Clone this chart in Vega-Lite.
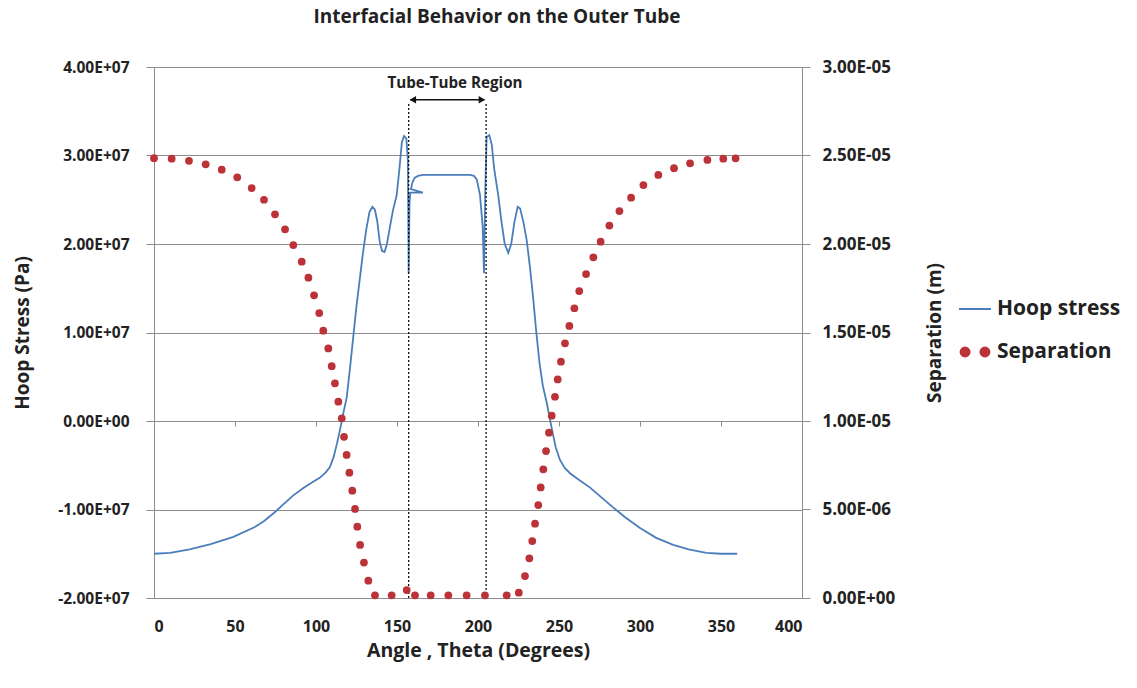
{
  "$schema": "https://vega.github.io/schema/vega-lite/v6.json",
  "width": 648,
  "height": 531,
  "autosize": "none",
  "padding": {"left": 154, "top": 67, "right": 335, "bottom": 90},
  "background": "white",
  "config": {
    "view": {"stroke": null},
    "font": "Open Sans",
    "axisLeft": {"grid": true, "gridColor": "#8c8c8c", "gridWidth": 1, "tickSize": 8, "tickColor": "#8c8c8c", "domainColor": "#8c8c8c",
      "labelExpr": "replace(replace(replace(format(datum.value, '.2e'), 'e+', 'E+0'), 'e-', 'E-0'), '\u2212', '-')",
      "labelFont": "Open Sans", "labelFontSize": 15.5, "labelFontWeight": "bold", "labelColor": "#222222", "labelPadding": 17, "titleFont": "Open Sans", "titleFontSize": 19, "titleFontWeight": "bold", "titleColor": "#222222", "titlePadding": 25},
    "axisRight": {"grid": false, "tickSize": 8, "tickColor": "#8c8c8c", "domainColor": "#8c8c8c",
      "labelExpr": "replace(replace(replace(format(datum.value, '.2e'), 'e+', 'E+0'), 'e-', 'E-0'), '\u2212', '-')",
      "labelFont": "Open Sans", "labelFontSize": 17, "labelFontWeight": "bold", "labelColor": "#222222", "labelPadding": 12, "titleFont": "Open Sans", "titleFontSize": 19, "titleFontWeight": "bold", "titleColor": "#222222", "titleAngle": -90, "titlePadding": 50},
    "axisBottom": {"grid": false, "ticks": false, "domainColor": "#8c8c8c", "labelFont": "Open Sans", "labelFontSize": 16, "labelFontWeight": "bold", "labelColor": "#222222", "labelPadding": 20, "titleFont": "Open Sans", "titleFontSize": 19.5, "titleFontWeight": "bold", "titleColor": "#222222", "titlePadding": 7}
  },
  "title": {"text": "Interfacial Behavior on the Outer Tube", "font": "Open Sans", "fontSize": 19, "fontWeight": "bold", "color": "#222222", "offset": 31, "dx": 19, "anchor": "middle"},
  "datasets": {
    "hoop": [
      {"i": 0, "theta": 0, "stress": -1.50e7},
      {"i": 1, "theta": 10, "stress": -1.49e7},
      {"i": 2, "theta": 22, "stress": -1.45e7},
      {"i": 3, "theta": 35, "stress": -1.39e7},
      {"i": 4, "theta": 49, "stress": -1.31e7},
      {"i": 5, "theta": 62, "stress": -1.20e7},
      {"i": 6, "theta": 68, "stress": -1.13e7},
      {"i": 7, "theta": 74, "stress": -1.04e7},
      {"i": 8, "theta": 80, "stress": -0.94e7},
      {"i": 9, "theta": 86, "stress": -0.84e7},
      {"i": 10, "theta": 92, "stress": -0.76e7},
      {"i": 11, "theta": 97, "stress": -0.70e7},
      {"i": 12, "theta": 102.5, "stress": -0.64e7},
      {"i": 13, "theta": 106, "stress": -0.58e7},
      {"i": 14, "theta": 108.6, "stress": -0.52e7},
      {"i": 15, "theta": 111, "stress": -0.40e7},
      {"i": 16, "theta": 113, "stress": -0.25e7},
      {"i": 17, "theta": 114.8, "stress": -0.10e7},
      {"i": 18, "theta": 117, "stress": 0.10e7},
      {"i": 19, "theta": 119, "stress": 0.27e7},
      {"i": 20, "theta": 121, "stress": 0.60e7},
      {"i": 21, "theta": 123, "stress": 0.95e7},
      {"i": 22, "theta": 125, "stress": 1.30e7},
      {"i": 23, "theta": 127, "stress": 1.60e7},
      {"i": 24, "theta": 129, "stress": 1.90e7},
      {"i": 25, "theta": 131, "stress": 2.16e7},
      {"i": 26, "theta": 133, "stress": 2.36e7},
      {"i": 27, "theta": 134.8, "stress": 2.42e7},
      {"i": 28, "theta": 136.3, "stress": 2.39e7},
      {"i": 29, "theta": 137.8, "stress": 2.26e7},
      {"i": 30, "theta": 139.3, "stress": 2.03e7},
      {"i": 31, "theta": 140.8, "stress": 1.92e7},
      {"i": 32, "theta": 142.3, "stress": 1.91e7},
      {"i": 33, "theta": 143.8, "stress": 2.00e7},
      {"i": 34, "theta": 145.5, "stress": 2.18e7},
      {"i": 35, "theta": 147.5, "stress": 2.38e7},
      {"i": 36, "theta": 149.8, "stress": 2.55e7},
      {"i": 37, "theta": 151.5, "stress": 2.85e7},
      {"i": 38, "theta": 153, "stress": 3.15e7},
      {"i": 39, "theta": 154.3, "stress": 3.22e7},
      {"i": 40, "theta": 155.8, "stress": 3.19e7},
      {"i": 41, "theta": 156.7, "stress": 2.95e7},
      {"i": 42, "theta": 157.2, "stress": 1.67e7},
      {"i": 43, "theta": 157.7, "stress": 2.45e7},
      {"i": 44, "theta": 158.2, "stress": 2.58e7},
      {"i": 45, "theta": 166, "stress": 2.58e7},
      {"i": 46, "theta": 158.6, "stress": 2.62e7},
      {"i": 47, "theta": 159.6, "stress": 2.70e7},
      {"i": 48, "theta": 161, "stress": 2.75e7},
      {"i": 49, "theta": 163, "stress": 2.77e7},
      {"i": 50, "theta": 166, "stress": 2.78e7},
      {"i": 51, "theta": 180, "stress": 2.78e7},
      {"i": 52, "theta": 195, "stress": 2.78e7},
      {"i": 53, "theta": 197.5, "stress": 2.77e7},
      {"i": 54, "theta": 199.2, "stress": 2.73e7},
      {"i": 55, "theta": 201.2, "stress": 2.56e7},
      {"i": 56, "theta": 202.9, "stress": 2.20e7},
      {"i": 57, "theta": 203.7, "stress": 1.67e7},
      {"i": 58, "theta": 204.5, "stress": 2.60e7},
      {"i": 59, "theta": 205.3, "stress": 3.21e7},
      {"i": 60, "theta": 207, "stress": 3.23e7},
      {"i": 61, "theta": 208.5, "stress": 3.12e7},
      {"i": 62, "theta": 210, "stress": 2.85e7},
      {"i": 63, "theta": 212.5, "stress": 2.55e7},
      {"i": 64, "theta": 214.5, "stress": 2.25e7},
      {"i": 65, "theta": 216.5, "stress": 2.00e7},
      {"i": 66, "theta": 218.7, "stress": 1.90e7},
      {"i": 67, "theta": 220.5, "stress": 2.00e7},
      {"i": 68, "theta": 222.5, "stress": 2.25e7},
      {"i": 69, "theta": 224.5, "stress": 2.42e7},
      {"i": 70, "theta": 226, "stress": 2.40e7},
      {"i": 71, "theta": 228, "stress": 2.25e7},
      {"i": 72, "theta": 230, "stress": 2.05e7},
      {"i": 73, "theta": 232, "stress": 1.75e7},
      {"i": 74, "theta": 234, "stress": 1.40e7},
      {"i": 75, "theta": 236, "stress": 1.00e7},
      {"i": 76, "theta": 238, "stress": 0.65e7},
      {"i": 77, "theta": 240, "stress": 0.40e7},
      {"i": 78, "theta": 242.5, "stress": 0.20e7},
      {"i": 79, "theta": 245.7, "stress": -0.10e7},
      {"i": 80, "theta": 248, "stress": -0.30e7},
      {"i": 81, "theta": 250.6, "stress": -0.44e7},
      {"i": 82, "theta": 253.5, "stress": -0.53e7},
      {"i": 83, "theta": 256.8, "stress": -0.59e7},
      {"i": 84, "theta": 262, "stress": -0.66e7},
      {"i": 85, "theta": 269, "stress": -0.75e7},
      {"i": 86, "theta": 276, "stress": -0.86e7},
      {"i": 87, "theta": 283, "stress": -0.97e7},
      {"i": 88, "theta": 291, "stress": -1.09e7},
      {"i": 89, "theta": 300, "stress": -1.21e7},
      {"i": 90, "theta": 310, "stress": -1.32e7},
      {"i": 91, "theta": 320.5, "stress": -1.40e7},
      {"i": 92, "theta": 330, "stress": -1.45e7},
      {"i": 93, "theta": 341, "stress": -1.49e7},
      {"i": 94, "theta": 350, "stress": -1.50e7},
      {"i": 95, "theta": 360, "stress": -1.50e7}
    ],
    "sep": [
      {"theta": 0, "sep": 2.485e-5},
      {"theta": 10.9, "sep": 2.482e-5},
      {"theta": 21.6, "sep": 2.47e-5},
      {"theta": 31.9, "sep": 2.45e-5},
      {"theta": 41.8, "sep": 2.42e-5},
      {"theta": 51.4, "sep": 2.377e-5},
      {"theta": 60.3, "sep": 2.316e-5},
      {"theta": 67.9, "sep": 2.25e-5},
      {"theta": 74.7, "sep": 2.168e-5},
      {"theta": 80.9, "sep": 2.083e-5},
      {"theta": 86, "sep": 1.994e-5},
      {"theta": 91.2, "sep": 1.90e-5},
      {"theta": 95.3, "sep": 1.81e-5},
      {"theta": 98.8, "sep": 1.71e-5},
      {"theta": 102, "sep": 1.61e-5},
      {"theta": 104.5, "sep": 1.51e-5},
      {"theta": 107.6, "sep": 1.41e-5},
      {"theta": 109.7, "sep": 1.31e-5},
      {"theta": 111.7, "sep": 1.213e-5},
      {"theta": 113.8, "sep": 1.109e-5},
      {"theta": 115.9, "sep": 1.015e-5},
      {"theta": 117.3, "sep": 0.911e-5},
      {"theta": 118.9, "sep": 0.808e-5},
      {"theta": 120.6, "sep": 0.708e-5},
      {"theta": 122.4, "sep": 0.606e-5},
      {"theta": 124.1, "sep": 0.503e-5},
      {"theta": 125.5, "sep": 0.403e-5},
      {"theta": 127.2, "sep": 0.30e-5},
      {"theta": 129.6, "sep": 0.20e-5},
      {"theta": 132.3, "sep": 0.098e-5},
      {"theta": 136.4, "sep": 0.015e-5},
      {"theta": 146.7, "sep": 0.015e-5},
      {"theta": 156, "sep": 0.045e-5},
      {"theta": 161.1, "sep": 0.015e-5},
      {"theta": 170.8, "sep": 0.015e-5},
      {"theta": 181.7, "sep": 0.015e-5},
      {"theta": 193, "sep": 0.015e-5},
      {"theta": 204.3, "sep": 0.015e-5},
      {"theta": 217.7, "sep": 0.015e-5},
      {"theta": 225.2, "sep": 0.03e-5},
      {"theta": 229, "sep": 0.124e-5},
      {"theta": 231.7, "sep": 0.224e-5},
      {"theta": 233.5, "sep": 0.322e-5},
      {"theta": 235.2, "sep": 0.42e-5},
      {"theta": 237.2, "sep": 0.525e-5},
      {"theta": 238.7, "sep": 0.625e-5},
      {"theta": 240.3, "sep": 0.727e-5},
      {"theta": 242, "sep": 0.83e-5},
      {"theta": 243.8, "sep": 0.934e-5},
      {"theta": 245.5, "sep": 1.03e-5},
      {"theta": 247.5, "sep": 1.137e-5},
      {"theta": 249.2, "sep": 1.235e-5},
      {"theta": 251.2, "sep": 1.335e-5},
      {"theta": 253.7, "sep": 1.439e-5},
      {"theta": 256.4, "sep": 1.537e-5},
      {"theta": 259.5, "sep": 1.637e-5},
      {"theta": 262.5, "sep": 1.734e-5},
      {"theta": 266.7, "sep": 1.83e-5},
      {"theta": 271.2, "sep": 1.925e-5},
      {"theta": 275.7, "sep": 2.013e-5},
      {"theta": 281.1, "sep": 2.104e-5},
      {"theta": 287.3, "sep": 2.186e-5},
      {"theta": 294.5, "sep": 2.262e-5},
      {"theta": 302.1, "sep": 2.333e-5},
      {"theta": 311.3, "sep": 2.39e-5},
      {"theta": 321, "sep": 2.428e-5},
      {"theta": 330.9, "sep": 2.456e-5},
      {"theta": 341.6, "sep": 2.475e-5},
      {"theta": 351.4, "sep": 2.482e-5},
      {"theta": 359, "sep": 2.484e-5}
    ],
    "bounds": [
      {"theta": 157.2, "stress": -2e7, "high": 3.6e7},
      {"theta": 205.0, "stress": -2e7, "high": 3.6e7}
    ],
    "arrow": [
      {"theta": 158.2, "to": 204.0, "stress": 3.63e7}
    ],
    "heads": [
      {"theta": 159.8, "stress": 3.63e7, "dir": "left"},
      {"theta": 202.4, "stress": 3.63e7, "dir": "right"}
    ],
    "note": [
      {"theta": 185.8, "stress": 3.82e7, "label": "Tube-Tube Region"}
    ]
  },
  "layer": [
    {
      "encoding": {
        "x": {"field": "theta", "type": "quantitative", "title": "Angle , Theta (Degrees)",
          "scale": {"domain": [0, 400], "nice": false, "zero": false},
          "axis": {"values": [0, 50, 100, 150, 200, 250, 300, 350, 400]}},
        "y": {"field": "stress", "type": "quantitative", "title": "Hoop Stress (Pa)",
          "scale": {"domain": [-2e7, 4e7], "nice": false, "zero": false},
          "axis": {"values": [-2e7, -1e7, 0, 1e7, 2e7, 3e7, 4e7]}}
      },
      "layer": [
        {
          "data": {"name": "hoop"},
          "mark": {"type": "line", "strokeWidth": 1.8, "interpolate": "linear"},
          "encoding": {
            "order": {"field": "i", "type": "quantitative"},
            "color": {"datum": "Hoop stress", "type": "nominal",
              "scale": {"domain": ["Hoop stress", "Separation"], "range": ["#4a7ebb", "#bb3338"]},
              "legend": {"orient": "none", "legendX": 804, "legendY": 225, "title": null, "padding": 0, "rowPadding": 16, "symbolSize": 1024, "labelOffset": 5, "labelFont": "Open Sans", "labelFontSize": 21, "labelFontWeight": "bold", "labelColor": "#222222",
                "encode": {"symbols": {"update": {
                  "shape": {"signal": "datum.value === 'Hoop stress' ? 'M-1,0L1,0' : 'M-0.9,0a0.28,0.28 0 1,0 0.56,0a0.28,0.28 0 1,0 -0.56,0M0.34,0a0.28,0.28 0 1,0 0.56,0a0.28,0.28 0 1,0 -0.56,0'"},
                  "fill": {"signal": "datum.value === 'Hoop stress' ? 'transparent' : '#bb3338'"},
                  "stroke": {"signal": "datum.value === 'Hoop stress' ? '#4a7ebb' : 'transparent'"},
                  "strokeWidth": {"value": 2},
                  "opacity": {"value": 1}
                }}}}}
          }
        },
        {
          "data": {"name": "bounds"},
          "mark": {"type": "rule", "color": "#111111", "strokeWidth": 1.3, "strokeDash": [2, 2]},
          "encoding": {
            "y2": {"field": "high"}
          }
        },
        {
          "data": {"name": "arrow"},
          "mark": {"type": "rule", "color": "#111111", "strokeWidth": 1.6},
          "encoding": {
            "x2": {"field": "to"}
          }
        },
        {
          "data": {"name": "heads"},
          "mark": {"type": "point", "filled": true, "color": "#111111", "size": 55, "opacity": 1},
          "encoding": {
            "shape": {"field": "dir", "type": "nominal", "scale": {"domain": ["left", "right"], "range": ["triangle-left", "triangle-right"]}, "legend": null}
          }
        },
        {
          "data": {"name": "note"},
          "mark": {"type": "text", "font": "Open Sans", "fontSize": 15.2, "fontWeight": "bold", "color": "#222222", "align": "center", "baseline": "middle"},
          "encoding": {
            "text": {"field": "label"}
          }
        }
      ]
    },
    {
      "data": {"name": "sep"},
      "mark": {"type": "point", "filled": true, "size": 60, "opacity": 1},
      "encoding": {
        "x": {"field": "theta", "type": "quantitative",
          "axis": {"orient": "bottom", "offset": -177, "values": [50, 100, 150, 200, 250, 300, 350], "labels": false, "domain": false, "grid": false, "ticks": true, "tickSize": 5, "tickColor": "#8c8c8c", "title": null}},
        "y": {"field": "sep", "type": "quantitative", "title": "Separation  (m)",
          "scale": {"domain": [0, 3e-5], "nice": false, "zero": false},
          "axis": {"orient": "right", "values": [0, 5e-6, 1e-5, 1.5e-5, 2e-5, 2.5e-5, 3e-5]}},
        "color": {"datum": "Separation", "type": "nominal"}
      }
    }
  ],
  "resolve": {"scale": {"y": "independent"}, "axis": {"x": "independent"}}
}
